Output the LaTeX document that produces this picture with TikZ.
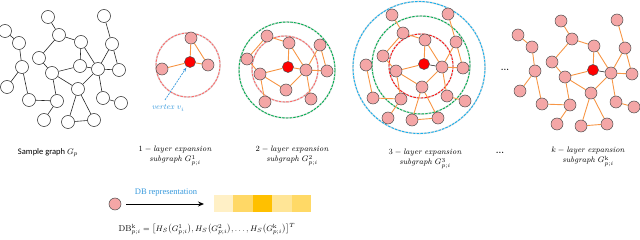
\documentclass[tikz,border=0pt]{standalone}
\usepackage{fontspec}
\usepackage{amsmath}
\newfontfamily\calib{Carlito}
\newfontfamily\tnr{Liberation Serif}
\usetikzlibrary{backgrounds,arrows.meta}
\definecolor{pinkn}{HTML}{F4A6A6}
\definecolor{edgeo}{HTML}{F79646}
\definecolor{ringred}{HTML}{FF1010}
\definecolor{ringpink}{HTML}{FF6A6A}
\definecolor{ringgreen}{HTML}{00B050}
\definecolor{ringblue}{HTML}{14B0F0}
\definecolor{dbblue}{HTML}{3598DC}
\definecolor{cA}{HTML}{FFF0C6}
\definecolor{cB}{HTML}{FFD866}
\definecolor{cC}{HTML}{FFC000}
\definecolor{cD}{HTML}{FFE596}
\definecolor{cE}{HTML}{FFD966}
\makeatletter
\newcommand\ifkeep[3]{\edef\kp@tmp{\noexpand\in@{,#1,}{#2}}\kp@tmp\ifin@#3\fi}
\makeatother
\def\fulllist{1/-75/-35,2/-61/-23,3/-58/1,4/-73/21,5/-51/34,6/-32/-49,7/-21/-31,8/-41/-8,9/-28/7,10/-23/35,11/-36/54,12/-12/56,13/14/54,14/-2/23,15/0/0,16/1/-24,17/24/-50,18/32/-22,19/18/3,20/39/4,21/23/32,22/41/37}
\def\edgelist{1/2,2/3,3/4,3/5,5/10,10/9,10/11,9/8,8/7,7/6,7/16,16/15,16/19,15/9,9/14,14/19,14/12,14/13,12/13,19/18,18/17,18/20,19/20,19/21,21/22}
% #1 prefix, #2 shift, #3 keep list, #4 node style, #5 centre style, #6 edge style, #7 style of edge 15-19
\newcommand\drawpanel[7]{%
\begin{scope}[shift={#2}]
\foreach \n/\x/\y in \fulllist {\ifkeep{\n}{#3}{\ifnum\n=15 \node[#5] (#1\n) at (\x,\y) {};\else\node[#4] (#1\n) at (\x,\y) {};\fi}}
\begin{pgfonlayer}{background}
\foreach \ua/\ub in \edgelist {\ifkeep{\ua}{#3}{\ifkeep{\ub}{#3}{\draw[#6] (#1\ua) -- (#1\ub);}}}
\ifkeep{19}{#3}{\draw[#7] (#115) -- (#119);}
\end{pgfonlayer}
\end{scope}}
\begin{document}
\begin{tikzpicture}[x=1pt,y=-1pt,
  snode/.style={circle,draw=black!85,fill=white,line width=0.5pt,minimum size=13pt,inner sep=0pt},
  pnode/.style={circle,draw=black!70,fill=pinkn,line width=0.5pt,minimum size=12pt,inner sep=0pt},
  cnode/.style={circle,draw=black!70,fill=red,line width=0.5pt,minimum size=11pt,inner sep=0pt},
  sedge/.style={draw=black!85,line width=0.6pt},
  oedge/.style={draw=edgeo,line width=0.9pt},
  dedge/.style={draw=black!80,line width=0.6pt},
  ring/.style={line width=1.6pt,draw=black!13,postaction={draw=#1,line width=0.9pt,dash pattern=on 2.5pt off 1.2pt}},
  lab/.style={font=\fontsize{8}{10}\selectfont,align=center,inner sep=0pt},
  cell/.style={minimum width=19.4pt,minimum height=17pt,inner sep=0pt,draw=none}]
\useasboundingbox (0,0) rectangle (640,240);
% rings
\begin{pgfonlayer}{background}
\draw[ring=ringpink] (188,65) circle[radius=32];
\draw[ring=ringgreen] (287,70) circle[radius=48];
\draw[ring=ringpink] (285,69) circle[radius=33];
\draw[ring=ringblue] (419,67.5) circle[radius=66];
\draw[ring=ringgreen] (421,65) circle[radius=49];
\draw[ring=ringred] (421,66) circle[radius=32];
\end{pgfonlayer}
% panels
\drawpanel{s}{(80,66)}{,1,2,3,4,5,6,7,8,9,10,11,12,13,14,15,16,17,18,19,20,21,22,}{snode}{snode}{sedge}{sedge}
\drawpanel{a}{(190,62)}{,15,16,19,9,}{pnode}{cnode}{oedge}{oedge}
\drawpanel{b}{(288,67)}{,15,16,19,9,7,14,18,20,21,8,10,}{pnode}{cnode}{oedge}{oedge}
\drawpanel{c}{(424,64)}{,15,16,19,9,7,14,18,20,21,8,10,6,12,13,17,22,5,11,3,}{pnode}{cnode}{oedge}{dedge}
\drawpanel{k}{(593,70)}{,1,2,3,4,5,6,7,8,9,10,11,12,13,14,15,16,17,18,19,20,21,22,}{pnode}{cnode}{oedge}{dedge}
% vertex arrow
\coordinate (vt) at (165,100);
\draw[dbblue,line width=0.7pt,dash pattern=on 2pt off 1pt,-{Stealth[length=4pt,width=3pt]},shorten >=1pt] (vt) -- (a15);
\node[lab,text=dbblue] (vl) at (168,108) {$\mathit{vertex}\ v_i$};
% dots
\node[lab] (d1) at (505,70) {\textbf{...}};
\node[lab] (d2) at (500,153) {\textbf{...}};
% labels
\node[lab,font=\fontsize{8.5}{10}\selectfont] (l0) at (48,153) {\calib Sample graph $G_p$};
\node[lab] (l1) at (175,156) {$1-\mathit{layer\ expansion}$\\$\mathit{subgraph}\ G^{1}_{p;i}$};
\node[lab] (l2) at (292,156) {$2-\mathit{layer\ expansion}$\\$\mathit{subgraph}\ G^{2}_{p;i}$};
\node[lab] (l3) at (425,159) {$3-\mathit{layer\ expansion}$\\$\mathit{subgraph}\ G^{3}_{p;i}$};
\node[lab] (lk) at (588,157) {$k-\mathit{layer\ expansion}$\\$\mathit{subgraph}\ G^{\mathrm{k}}_{p;i}$};
% bottom
\node[pnode] (bn) at (115,204) {};
\coordinate (ae) at (204,204);
\draw[line width=0.9pt,-{Stealth[length=6pt,width=5pt]}] (bn.east) ++(5,0) coordinate (as) (as) -- (ae);
\node[lab,font=\tnr\fontsize{8.5}{10}\selectfont,text=dbblue] (dbl) at (166,193) {DB representation};
\node[cell,fill=cA] (c1) at (223.7,203.5) {};
\node[cell,fill=cB] (c2) at (243.1,203.5) {};
\node[cell,fill=cC] (c3) at (262.5,203.5) {};
\node[cell,fill=cD] (c4) at (281.9,203.5) {};
\node[cell,fill=cE] (c5) at (301.3,203.5) {};
\node[lab,font=\fontsize{8.5}{10}\selectfont] (fm) at (207,229) {$\mathrm{DB}^{\mathrm{k}}_{p;i}=\bigl[H_S\bigl(G^{1}_{p;i}\bigr),H_S\bigl(G^{2}_{p;i}\bigr),\dots,H_S\bigl(G^{\mathrm{k}}_{p;i}\bigr)\bigr]^{T}$};
\end{tikzpicture}
\end{document}
